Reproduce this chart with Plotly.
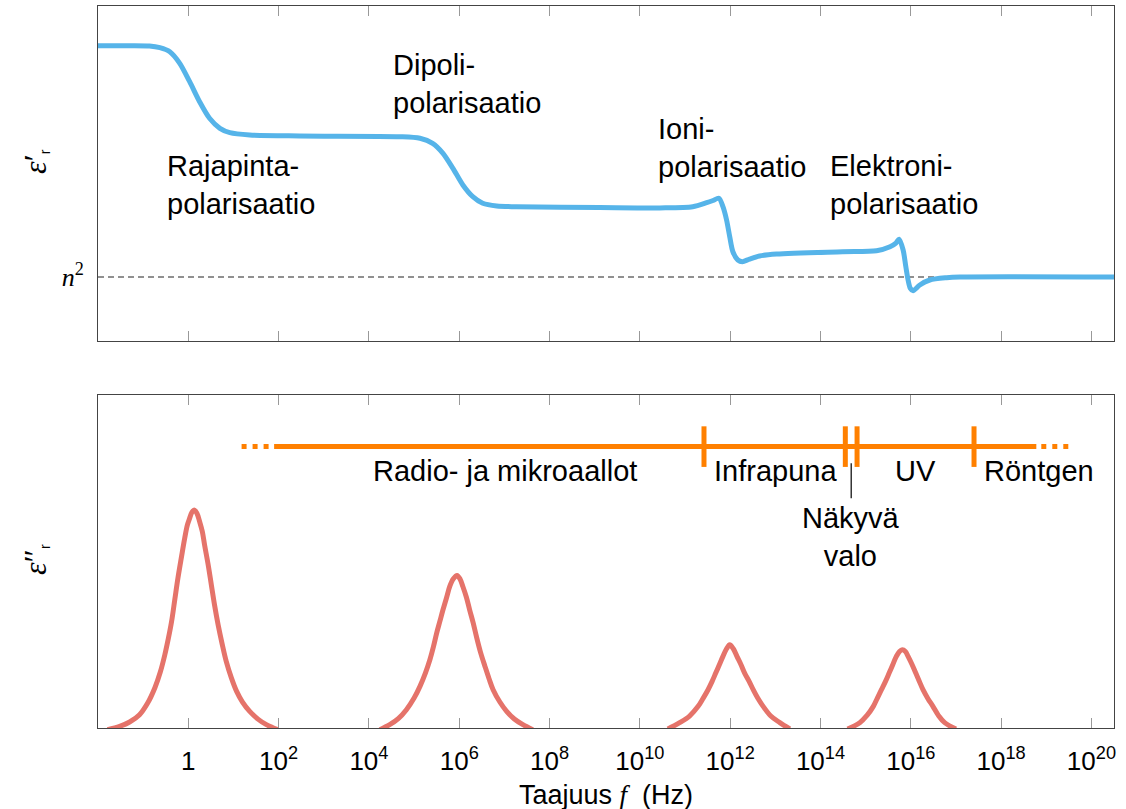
import plotly.graph_objects as go

# ---------------- data (x = log10 of frequency in Hz) ----------------
# Top panel: real part of relative permittivity (units: n^2 = 1)
eps_re_logf = [-2.00, -1.30, -0.86, -0.63, -0.41, -0.19, 0.03, 0.25, 0.47, 0.70,
               0.92, 1.36, 2.47, 4.68, 5.13, 5.41, 5.64, 5.86, 6.08, 6.30,
               6.52, 6.83, 7.27, 9.11, 10.44, 11.17, 11.48, 11.62, 11.75, 11.84,
               11.92, 11.99, 12.06, 12.17, 12.27, 12.43, 12.65, 13.03, 14.49, 15.24,
               15.54, 15.67, 15.74, 15.83, 15.89, 15.94, 15.99, 16.05, 16.20, 16.42,
               16.79, 17.09, 20.50]
eps_re_val = [4.614, 4.614, 4.609, 4.583, 4.520, 4.339, 4.052, 3.739, 3.480, 3.323,
              3.255, 3.219, 3.203, 3.192, 3.167, 3.089, 2.933, 2.698, 2.438, 2.255,
              2.152, 2.109, 2.098, 2.086, 2.080, 2.098, 2.161, 2.195, 2.230, 2.098,
              1.891, 1.630, 1.395, 1.266, 1.239, 1.281, 1.328, 1.359, 1.395, 1.411,
              1.473, 1.531, 1.589, 1.422, 1.161, 0.953, 0.823, 0.786, 0.875, 0.953,
              0.989, 1.000, 1.000]
n2_level = 1.0

# Bottom panel: imaginary part (loss peaks), arbitrary units
peak1_logf = [-1.79, -1.52, -1.30, -1.08, -0.90, -0.74, -0.62, -0.52, -0.44, -0.37,
              -0.30, -0.23, -0.15, -0.08, -0.02, 0.03, 0.08, 0.13, 0.19, 0.25,
              0.31, 0.36, 0.44, 0.51, 0.58, 0.66, 0.75, 0.84, 0.95, 1.07,
              1.20, 1.36, 1.55, 1.73, 1.98]
peak1_val = [-0.005, 0.005, 0.018, 0.040, 0.075, 0.121, 0.168, 0.220, 0.270, 0.320,
             0.385, 0.450, 0.515, 0.570, 0.610, 0.630, 0.648, 0.655, 0.645, 0.620,
             0.590, 0.550, 0.490, 0.430, 0.370, 0.310, 0.252, 0.200, 0.152, 0.110,
             0.078, 0.050, 0.026, 0.010, -0.005]
peak2_logf = [4.24, 4.46, 4.65, 4.83, 5.00, 5.13, 5.25, 5.35, 5.43, 5.50,
              5.57, 5.64, 5.72, 5.79, 5.87, 5.95, 6.02, 6.08, 6.16, 6.23,
              6.31, 6.38, 6.47, 6.57, 6.66, 6.75, 6.90, 7.05, 7.22, 7.41, 7.63]
peak2_val = [-0.005, 0.010, 0.028, 0.055, 0.090, 0.125, 0.165, 0.205, 0.245, 0.285,
             0.320, 0.355, 0.392, 0.425, 0.448, 0.458, 0.447, 0.425, 0.392, 0.355,
             0.315, 0.275, 0.228, 0.185, 0.148, 0.115, 0.078, 0.050, 0.027, 0.010, -0.005]
peak3_logf = [10.62, 10.88, 11.10, 11.29, 11.40, 11.51, 11.60, 11.68, 11.76, 11.84,
              11.92, 11.99, 12.07, 12.15, 12.24, 12.32, 12.42, 12.51, 12.61, 12.73,
              12.90, 13.10, 13.32]
peak3_val = [-0.003, 0.016, 0.036, 0.065, 0.089, 0.115, 0.140, 0.165, 0.190, 0.215,
             0.238, 0.250, 0.238, 0.215, 0.190, 0.165, 0.140, 0.115, 0.090, 0.065,
             0.036, 0.016, -0.003]
peak4_logf = [14.60, 14.87, 15.03, 15.17, 15.26, 15.35, 15.44, 15.52, 15.60, 15.68,
              15.75, 15.81, 15.88, 15.94, 16.03, 16.11, 16.19, 16.27, 16.38, 16.49,
              16.61, 16.75, 17.00]
peak4_val = [-0.003, 0.016, 0.038, 0.065, 0.090, 0.115, 0.140, 0.165, 0.190, 0.215,
             0.230, 0.235, 0.230, 0.215, 0.190, 0.165, 0.140, 0.115, 0.088, 0.065,
             0.038, 0.016, -0.003]

# Electromagnetic spectrum bar
spectrum_level = 0.845
spectrum_solid = [1.90, 18.78]
spectrum_dots_left = [1.18, 1.78]
spectrum_dots_right = [18.89, 19.53]
band_edges = [11.42, 14.55, 14.81, 17.40]
band_labels = ["Radio- ja mikroaallot", "Infrapuna", "UV", "Röntgen"]
band_label_x = [7.01, 13.00, 16.11, 18.84]
band_label_y = 0.772
visible_label = "Näkyvä<br>valo"

# Polarisation labels (top panel)
pol_labels = ["Rajapinta-<br>polarisaatio", "Dipoli-<br>polarisaatio",
              "Ioni-<br>polarisaatio", "Elektroni-<br>polarisaatio"]
pol_label_x = [-0.52, 4.48, 10.36, 14.17]
pol_label_y = [2.44, 4.01, 3.01, 2.44]

tick_vals = list(range(0, 21, 2))
tick_text = ["1"] + [f"10<sup>{k}</sup>" for k in range(2, 21, 2)]
x_range = [-2.0, 20.5]

# ---------------- styling ----------------
BLUE = "#56B4E9"
RED = "#E5736A"
ORANGE = "#FF8000"
SANS = "Liberation Sans, Arial, Helvetica, sans-serif"
SERIF = "Liberation Serif, DejaVu Serif, serif"

fig = go.Figure()

# n^2 reference line
fig.add_trace(go.Scatter(x=x_range, y=[n2_level, n2_level], mode="lines",
                         line=dict(color="#222222", width=1.2, dash="6px,4px"),
                         xaxis="x", yaxis="y", hoverinfo="skip"))
# eps' curve
fig.add_trace(go.Scatter(x=eps_re_logf, y=eps_re_val, mode="lines",
                         line=dict(color=BLUE, width=5, shape="spline", smoothing=0.8,
                                   simplify=False),
                         xaxis="x", yaxis="y"))

# loss peaks
for px, py in [(peak1_logf, peak1_val), (peak2_logf, peak2_val),
               (peak3_logf, peak3_val), (peak4_logf, peak4_val)]:
    fig.add_trace(go.Scatter(x=px, y=py, mode="lines",
                             line=dict(color=RED, width=5, shape="spline", smoothing=1.0,
                                       simplify=False),
                             xaxis="x2", yaxis="y2"))

# spectrum bar
fig.add_trace(go.Scatter(x=spectrum_solid, y=[spectrum_level] * 2, mode="lines",
                         line=dict(color=ORANGE, width=5), xaxis="x2", yaxis="y2"))
for seg in (spectrum_dots_left, spectrum_dots_right):
    fig.add_trace(go.Scatter(x=seg, y=[spectrum_level] * 2, mode="lines",
                             line=dict(color=ORANGE, width=5, dash="5px,6px"),
                             xaxis="x2", yaxis="y2"))
fig.add_trace(go.Scatter(x=band_edges, y=[spectrum_level] * len(band_edges), mode="markers",
                         marker=dict(symbol="line-ns", size=29,
                                     line=dict(color=ORANGE, width=5)),
                         xaxis="x2", yaxis="y2"))

# leader line for visible light
vis_x = (band_edges[1] + band_edges[2]) / 2
fig.add_trace(go.Scatter(x=[vis_x, vis_x], y=[0.795, 0.69], mode="lines",
                         line=dict(color="black", width=1.2), xaxis="x2", yaxis="y2"))

annotations = []
for txt, x, y in zip(pol_labels, pol_label_x, pol_label_y):
    annotations.append(dict(text=txt, x=x, y=y, xref="x", yref="y", xanchor="left",
                            yanchor="middle", align="left", showarrow=False,
                            font=dict(family=SANS, size=29, color="black")))
for txt, x in zip(band_labels, band_label_x):
    annotations.append(dict(text=txt, x=x, y=band_label_y, xref="x2", yref="y2",
                            xanchor="center", yanchor="middle", showarrow=False,
                            font=dict(family=SANS, size=29, color="black")))
annotations.append(dict(text=visible_label, x=vis_x, y=0.574, xref="x2", yref="y2",
                        xanchor="center", yanchor="middle", align="center", showarrow=False,
                        font=dict(family=SANS, size=29, color="black")))
# axis titles
annotations.append(dict(text="<i>ε</i>′<span style='font-family:Liberation Sans;font-size:20px'><sub>r</sub></span>",
                        x=-0.062, y=0.784, xref="paper", yref="paper", textangle=-90,
                        xanchor="center", yanchor="middle", showarrow=False,
                        font=dict(family=SERIF, size=32, color="black")))
annotations.append(dict(text="<i>ε</i>″<span style='font-family:Liberation Sans;font-size:20px'><sub>r</sub></span>",
                        x=-0.062, y=0.2327, xref="paper", yref="paper", textangle=-90,
                        xanchor="center", yanchor="middle", showarrow=False,
                        font=dict(family=SERIF, size=32, color="black")))
annotations.append(dict(text="Taajuus <span style='font-family:Liberation Serif'><i>f</i></span>  (Hz)",
                        x=0.5, y=-0.0928, xref="paper", yref="paper",
                        xanchor="center", yanchor="middle", showarrow=False,
                        font=dict(family=SANS, size=27, color="black")))

axis_common = dict(range=x_range, showgrid=False, zeroline=False, showline=True,
                   linecolor="#444444", linewidth=1, mirror="ticks", ticks="inside",
                   ticklen=10, tickwidth=1, tickcolor="#999999", tickvals=tick_vals)

fig.update_layout(
    width=1126, height=809,
    margin=dict(l=98, r=12, t=6, b=81),
    paper_bgcolor="white", plot_bgcolor="white",
    showlegend=False,
    xaxis=dict(**axis_common, anchor="y", matches="x2", showticklabels=False),
    xaxis2=dict(**axis_common, anchor="y2", ticktext=tick_text,
                tickfont=dict(family=SANS, size=26, color="black"), ticklabelstandoff=10),
    yaxis=dict(domain=[0.536, 1.0], range=[0, 5.234], anchor="x", showgrid=False,
               zeroline=False, showline=True, linecolor="#444444", linewidth=1, mirror=True,
               ticks="", tickvals=[n2_level], ticktext=["<i>n</i><sup>2</sup>"],
               tickfont=dict(family=SERIF, size=26, color="black"), ticklabelstandoff=8),
    yaxis2=dict(domain=[0.0, 0.4612], range=[0, 1.0], anchor="x2", showgrid=False,
                zeroline=False, showline=True, linecolor="#444444", linewidth=1, mirror=True,
                ticks="", showticklabels=False),
    annotations=annotations,
)

fig.write_html("out.html")
